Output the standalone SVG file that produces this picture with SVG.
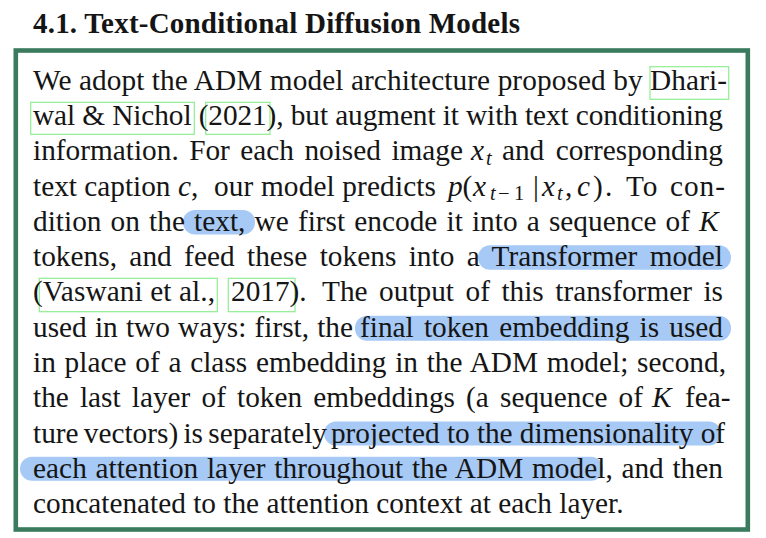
<svg xmlns="http://www.w3.org/2000/svg" width="766" height="538" viewBox="0 0 766 538">
<style>
.t{font-family:"Liberation Serif","Times New Roman",serif;font-size:29.3px;fill:#151515}
.h{font-weight:bold;font-size:29px}
.i{font-style:italic}
.s{font-size:20.5px}
.hl{fill:#a6c9f6}
.ct{fill:none;stroke:#90ef90;stroke-width:1.2}
</style>
<rect width="766" height="538" fill="#ffffff"/>
<g id="heading"><text class="t h" x="33" y="33" textLength="487">4.1. Text-Conditional Diffusion Models</text></g>
<g id="frame"><rect x="15.8" y="50.5" width="732" height="479" fill="none" stroke="#3a7a5d" stroke-width="4.6"/></g>
<g id="highlights">
<rect class="hl" x="183" y="210" width="72" height="24.5" rx="12"/>
<rect class="hl" x="478" y="245.2" width="253" height="24.5" rx="12"/>
<rect class="hl" x="355" y="315.7" width="376" height="25" rx="12"/>
<rect class="hl" x="324" y="421.5" width="397" height="24" rx="12"/>
<rect class="hl" x="20" y="456.8" width="583" height="24" rx="12"/>
</g>
<g id="citations">
<rect class="ct" x="650" y="66.7" width="78.7" height="32.6"/>
<rect class="ct" x="30.7" y="102.3" width="163.6" height="32"/>
<rect class="ct" x="205.7" y="102.3" width="64.3" height="32"/>
<rect class="ct" x="39.3" y="278.3" width="178" height="33.4"/>
<rect class="ct" x="228.3" y="278.3" width="66.7" height="33.4"/>
</g>
<g id="body">
<text class="t" x="33" y="89.8" textLength="694">We adopt the ADM model architecture proposed by Dhari-</text>
<text class="t" x="33" y="125.1" textLength="690">wal &amp; Nichol (2021), but augment it with text conditioning</text>
<text class="t" y="160.3"><tspan x="33" word-spacing="3.1" textLength="430">information. For each noised image</tspan><tspan class="i" x="471">x</tspan><tspan class="i s" x="486" y="164.7">t</tspan><tspan x="502" y="160.3" word-spacing="4.2" textLength="221">and corresponding</tspan></text>
<text class="t" y="195.6"><tspan x="33">text caption</tspan><tspan class="i" x="178">c</tspan><tspan x="191">,</tspan><tspan x="214" textLength="222">our model predicts</tspan><tspan class="i" x="448">p</tspan><tspan x="462.5">(</tspan><tspan class="i" x="473">x</tspan><tspan class="i s" x="490" y="200">t</tspan><tspan class="s" x="498" y="200">−</tspan><tspan class="s" x="514" y="200">1</tspan><tspan x="533" y="195.6">|</tspan><tspan class="i" x="542">x</tspan><tspan class="i s" x="557" y="200">t</tspan><tspan x="565" y="195.6">,</tspan><tspan class="i" x="577">c</tspan><tspan x="593">)</tspan><tspan x="605">.</tspan><tspan x="626" word-spacing="3" textLength="99">To con-</tspan></text>
<text class="t" y="230.9"><tspan x="33" word-spacing="1.8" textLength="657">dition on the text, we first encode it into a sequence of</tspan><tspan class="i" x="699">K</tspan></text>
<text class="t" x="33" y="266.2" word-spacing="5" textLength="690">tokens, and feed these tokens into a Transformer model</text>
<text class="t" y="301.4"><tspan x="33" textLength="182">(Vaswani et al.,</tspan><tspan x="231">2017).</tspan><tspan x="322" word-spacing="4.2" textLength="401">The output of this transformer is</tspan></text>
<text class="t" y="336.7"><tspan x="33" word-spacing="0.9" textLength="320">used in two ways: first, the</tspan><tspan x="360" word-spacing="2.85" textLength="363">final token embedding is used</tspan></text>
<text class="t" x="33" y="372" word-spacing="1.35" textLength="693">in place of a class embedding in the ADM model; second,</text>
<text class="t" y="407.2"><tspan x="33" word-spacing="3.8" textLength="610">the last layer of token embeddings (a sequence of</tspan><tspan class="i" x="652">K</tspan><tspan x="685">fea-</tspan></text>
<text class="t" y="442.5"><tspan x="33" word-spacing="-2" textLength="294">ture vectors) is separately</tspan><tspan x="331" textLength="394">projected to the dimensionality of</tspan></text>
<text class="t" x="33" y="477.8" word-spacing="1.3" textLength="690">each attention layer throughout the ADM model, and then</text>
<text class="t" x="33" y="513">concatenated to the attention context at each layer.</text>
</g>
</svg>
